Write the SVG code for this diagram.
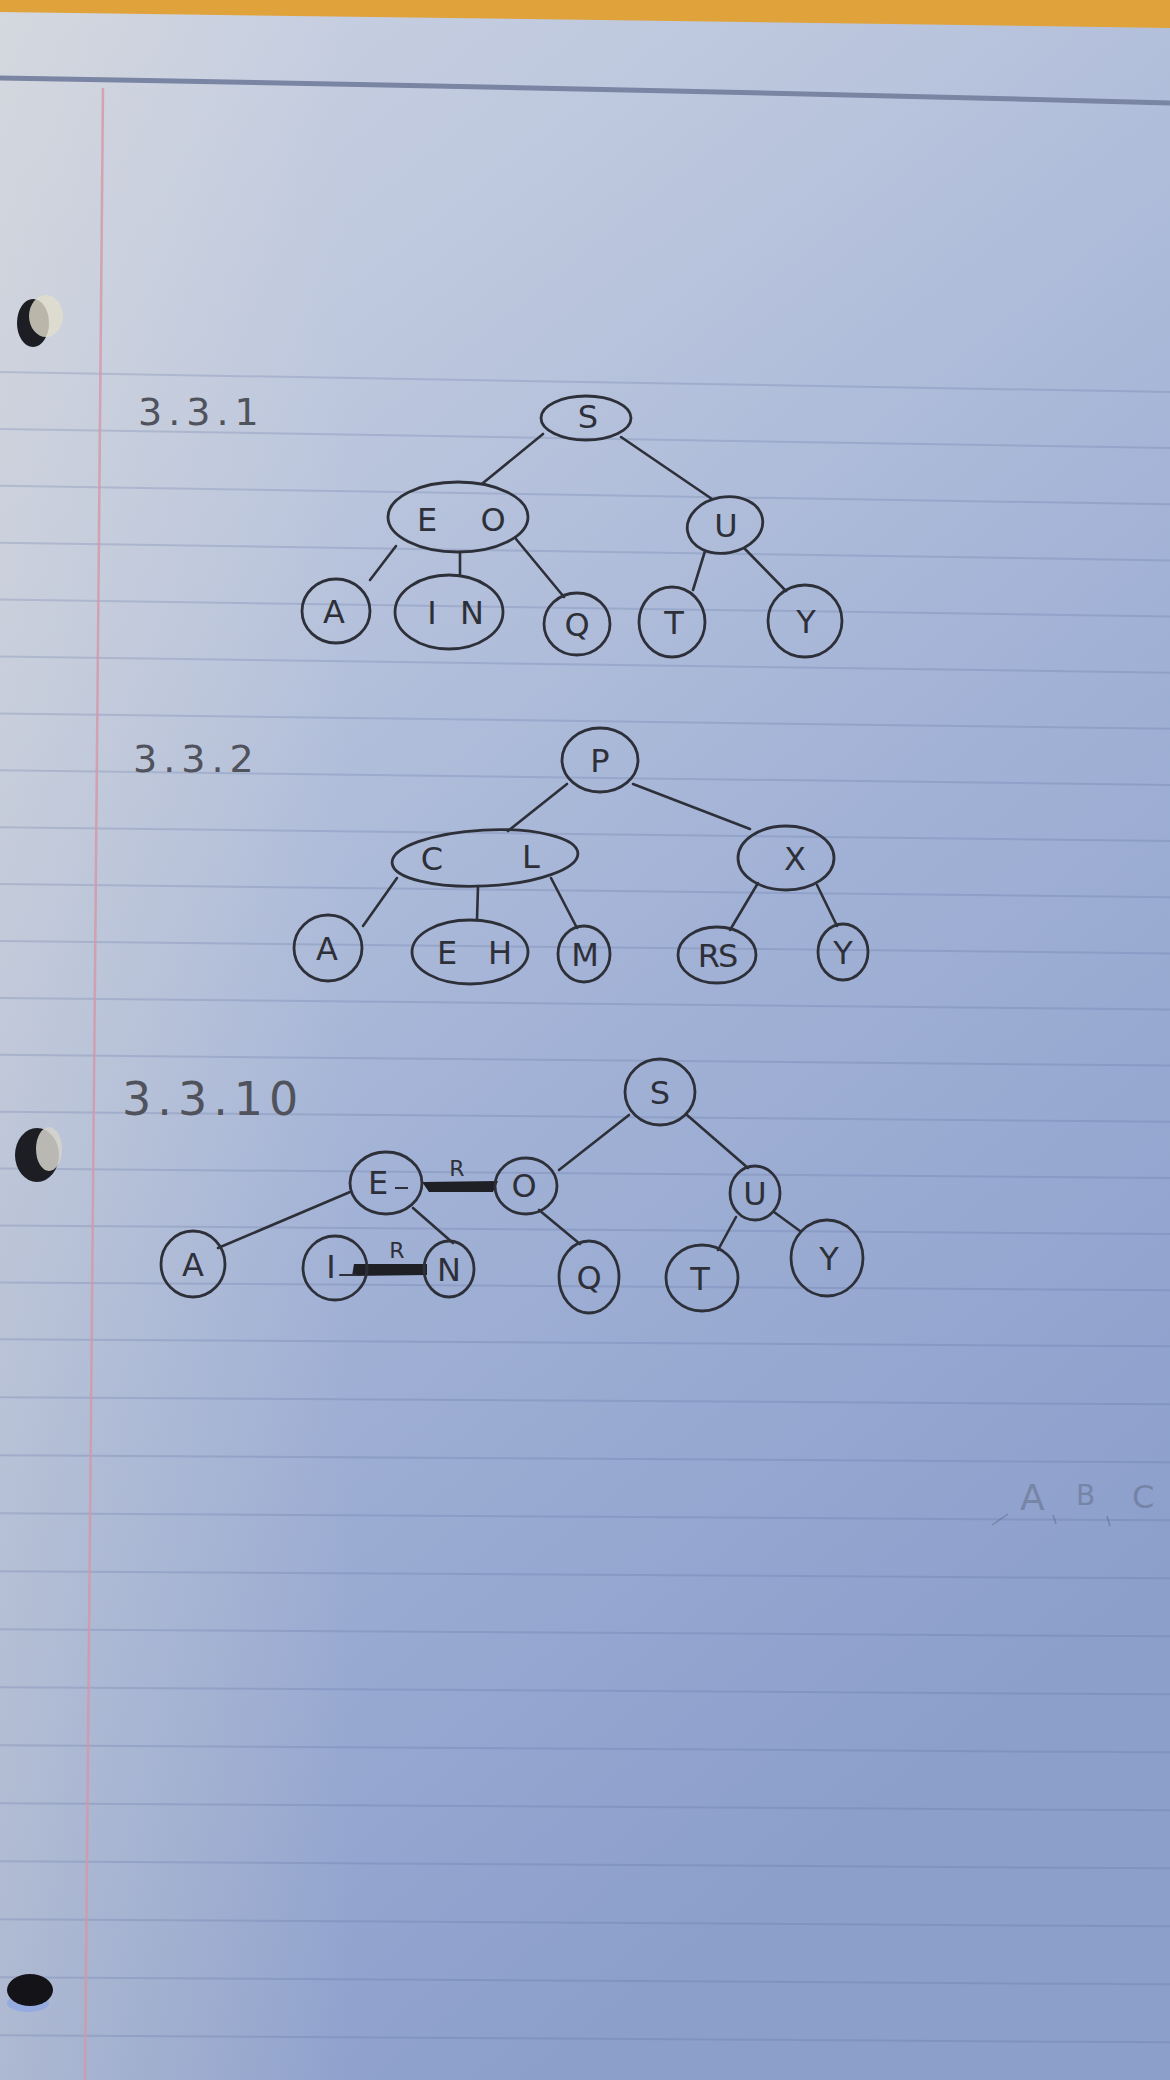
<svg xmlns="http://www.w3.org/2000/svg" width="1170" height="2080" viewBox="0 0 1170 2080">
<defs>
  <linearGradient id="paper" x1="0" y1="0" x2="0.45" y2="1">
    <stop offset="0" stop-color="#ccd3e2"/>
    <stop offset="0.3" stop-color="#bac5dd"/>
    <stop offset="0.6" stop-color="#a2b2d6"/>
    <stop offset="1" stop-color="#8c9fcb"/>
  </linearGradient>
  <linearGradient id="leftlight" x1="0" y1="0" x2="1" y2="0">
    <stop offset="0" stop-color="#e6e2d6" stop-opacity="0.3"/>
    <stop offset="0.3" stop-color="#e6e2d6" stop-opacity="0"/>
  </linearGradient>
  <style>
    .rule{stroke:#55679a;stroke-opacity:0.22;stroke-width:2;fill:none}
    .node ellipse{fill:none;stroke:#2e3039;stroke-width:2.8}
    .node text{font-family:"DejaVu Sans","Liberation Sans",sans-serif;font-size:32px;fill:#2e3039;text-anchor:middle}
    .conn line{stroke:#2e3039;stroke-width:2.6;stroke-linecap:round}
    .head{font-family:"DejaVu Sans","Liberation Sans",sans-serif;fill:#50525c;letter-spacing:6px}
    .rlab{font-family:"DejaVu Sans","Liberation Sans",sans-serif;font-size:22px;fill:#2e3039;text-anchor:middle}
    .bar{fill:#1f2026}
  </style>
</defs>

<!-- paper -->
<rect x="0" y="0" width="1170" height="2080" fill="url(#paper)"/>
<rect x="0" y="0" width="1170" height="2080" fill="url(#leftlight)"/>
<polygon points="0,0 1170,0 1170,28 600,20 0,12" fill="#e0a33c"/>
<path d="M0,78 Q600,88 1170,103" stroke="#7a84a3" stroke-width="5" fill="none"/>

<g id="rules">
  <line class="rule" x1="0" y1="372" x2="1170" y2="392"/>
  <line class="rule" x1="0" y1="428.9" x2="1170" y2="448.1"/>
  <line class="rule" x1="0" y1="485.8" x2="1170" y2="504.3"/>
  <line class="rule" x1="0" y1="542.7" x2="1170" y2="560.4"/>
  <line class="rule" x1="0" y1="599.6" x2="1170" y2="616.5"/>
  <line class="rule" x1="0" y1="656.5" x2="1170" y2="672.7"/>
  <line class="rule" x1="0" y1="713.4" x2="1170" y2="728.8"/>
  <line class="rule" x1="0" y1="770.3" x2="1170" y2="785"/>
  <line class="rule" x1="0" y1="827.2" x2="1170" y2="841.1"/>
  <line class="rule" x1="0" y1="884.1" x2="1170" y2="897.2"/>
  <line class="rule" x1="0" y1="941" x2="1170" y2="953.4"/>
  <line class="rule" x1="0" y1="997.9" x2="1170" y2="1009.5"/>
  <line class="rule" x1="0" y1="1054.8" x2="1170" y2="1065.6"/>
  <line class="rule" x1="0" y1="1111.7" x2="1170" y2="1121.8"/>
  <line class="rule" x1="0" y1="1168.6" x2="1170" y2="1177.9"/>
  <line class="rule" x1="0" y1="1225.5" x2="1170" y2="1234"/>
  <line class="rule" x1="0" y1="1282.4" x2="1170" y2="1290.2"/>
  <line class="rule" x1="0" y1="1339.3" x2="1170" y2="1346.3"/>
  <line class="rule" x1="0" y1="1397.3" x2="1170" y2="1404.3"/>
  <line class="rule" x1="0" y1="1455.3" x2="1170" y2="1462.3"/>
  <line class="rule" x1="0" y1="1513.3" x2="1170" y2="1520.3"/>
  <line class="rule" x1="0" y1="1571.3" x2="1170" y2="1578.3"/>
  <line class="rule" x1="0" y1="1629.3" x2="1170" y2="1636.3"/>
  <line class="rule" x1="0" y1="1687.3" x2="1170" y2="1694.3"/>
  <line class="rule" x1="0" y1="1745.3" x2="1170" y2="1752.3"/>
  <line class="rule" x1="0" y1="1803.3" x2="1170" y2="1810.3"/>
  <line class="rule" x1="0" y1="1861.3" x2="1170" y2="1868.3"/>
  <line class="rule" x1="0" y1="1919.3" x2="1170" y2="1926.3"/>
  <line class="rule" x1="0" y1="1977.3" x2="1170" y2="1984.3"/>
  <line class="rule" x1="0" y1="2035.3" x2="1170" y2="2042.3"/>
</g>
<line x1="103" y1="88" x2="85" y2="2080" stroke="#d597a6" stroke-width="2.5" stroke-opacity="0.8"/>

<!-- punch holes -->
<g id="holes">
  <ellipse cx="33" cy="323" rx="16" ry="24" fill="#1d1e24"/>
  <ellipse cx="46" cy="316" rx="17" ry="21" fill="#e2ddcc" opacity="0.8"/>
  <ellipse cx="37" cy="1155" rx="22" ry="27" fill="#1d1e24"/>
  <ellipse cx="49" cy="1149" rx="13" ry="22" fill="#d6d3cb" opacity="0.85"/>
  <ellipse cx="28" cy="2003" rx="21" ry="9" fill="#8ea8e2" opacity="0.8"/>
  <ellipse cx="30" cy="1990" rx="23" ry="16" fill="#141418"/>
</g>

<!-- headings -->
<text class="head" x="138" y="425" font-size="38">3.3.1</text>
<text class="head" x="133" y="772" font-size="38">3.3.2</text>
<text class="head" x="122" y="1115" font-size="46">3.3.10</text>

<!-- faint bleed-through marks -->
<g id="faint" opacity="0.25">
  <text x="1020" y="1510" font-family="DejaVu Sans, sans-serif" font-size="36" fill="#2e3039">A</text>
  <text x="1076" y="1505" font-family="DejaVu Sans, sans-serif" font-size="28" fill="#2e3039">B</text>
  <text x="1132" y="1508" font-family="DejaVu Sans, sans-serif" font-size="32" fill="#2e3039">C</text>
  <path d="M992,1525 L1008,1514 M1053,1515 L1056,1524 M1107,1516 L1110,1526" stroke="#2e3039" stroke-width="1.5" fill="none"/>
</g>

<!-- connectors -->
<g id="connectors" class="conn">
  <!-- tree 3.3.1 -->
  <line x1="543" y1="434" x2="483" y2="483"/>
  <line x1="621" y1="437" x2="712" y2="499"/>
  <line x1="396" y1="546" x2="370" y2="580"/>
  <line x1="460" y1="552" x2="460" y2="576"/>
  <line x1="516" y1="539" x2="564" y2="597"/>
  <line x1="705" y1="551" x2="693" y2="590"/>
  <line x1="745" y1="549" x2="786" y2="591"/>
  <!-- tree 3.3.2 -->
  <line x1="567" y1="784" x2="508" y2="831"/>
  <line x1="633" y1="784" x2="750" y2="829"/>
  <line x1="397" y1="878" x2="363" y2="926"/>
  <line x1="478" y1="886" x2="477" y2="920"/>
  <line x1="551" y1="878" x2="577" y2="928"/>
  <line x1="758" y1="883" x2="730" y2="930"/>
  <line x1="817" y1="885" x2="837" y2="926"/>
  <!-- tree 3.3.10 -->
  <line x1="629" y1="1115" x2="559" y2="1170"/>
  <line x1="687" y1="1115" x2="748" y2="1168"/>
  <line x1="350" y1="1192" x2="218" y2="1248"/>
  <line x1="413" y1="1208" x2="453" y2="1243"/>
  <line x1="539" y1="1210" x2="580" y2="1244"/>
  <line x1="736" y1="1217" x2="718" y2="1250"/>
  <line x1="774" y1="1212" x2="800" y2="1231"/>
  <!-- red links -->
  <polygon class="bar" points="422,1182 498,1181 493,1192 429,1192"/>
  <polygon class="bar" points="354,1264 427,1264 427,1275 352,1276"/>
  <line x1="340" y1="1275" x2="356" y2="1275" style="stroke-width:2"/>
  <text class="rlab" x="457" y="1176">R</text>
  <text class="rlab" x="397" y="1258">R</text>
</g>

<!-- tree 3.3.1 nodes -->
<g id="t1-S" class="node"><ellipse cx="586" cy="418" rx="45" ry="22"/><text x="588" y="428" font-size="28">S</text></g>
<g id="t1-EO" class="node"><ellipse cx="458" cy="517" rx="70" ry="35"/><text x="427" y="531">E</text><text x="493" y="531">O</text></g>
<g id="t1-U" class="node"><ellipse cx="725" cy="525" rx="38" ry="28" transform="rotate(-10 725 525)"/><text x="726" y="537">U</text></g>
<g id="t1-A" class="node"><ellipse cx="336" cy="611" rx="34" ry="32"/><text x="334" y="623">A</text></g>
<g id="t1-IN" class="node"><ellipse cx="449" cy="612" rx="54" ry="37"/><text x="432" y="624">I</text><text x="472" y="624">N</text></g>
<g id="t1-Q" class="node"><ellipse cx="577" cy="624" rx="33" ry="31"/><text x="577" y="636">Q</text></g>
<g id="t1-T" class="node"><ellipse cx="672" cy="622" rx="33" ry="35"/><text x="674" y="634">T</text></g>
<g id="t1-Y" class="node"><ellipse cx="805" cy="621" rx="37" ry="36"/><text x="806" y="633">Y</text></g>

<!-- tree 3.3.2 nodes -->
<g id="t2-P" class="node"><ellipse cx="600" cy="760" rx="38" ry="32"/><text x="600" y="772">P</text></g>
<g id="t2-CL" class="node"><ellipse cx="485" cy="858" rx="93" ry="28" transform="rotate(-3 485 858)"/><text x="432" y="870">C</text><text x="531" y="868">L</text></g>
<g id="t2-X" class="node"><ellipse cx="786" cy="858" rx="48" ry="32"/><text x="795" y="870">X</text></g>
<g id="t2-A" class="node"><ellipse cx="328" cy="948" rx="34" ry="33"/><text x="327" y="960">A</text></g>
<g id="t2-EH" class="node"><ellipse cx="470" cy="952" rx="58" ry="32"/><text x="447" y="964">E</text><text x="500" y="964">H</text></g>
<g id="t2-M" class="node"><ellipse cx="584" cy="954" rx="26" ry="28"/><text x="585" y="966">M</text></g>
<g id="t2-RS" class="node"><ellipse cx="717" cy="955" rx="39" ry="28"/><text x="717" y="967" letter-spacing="-2">RS</text></g>
<g id="t2-Y" class="node"><ellipse cx="843" cy="952" rx="25" ry="28"/><text x="843" y="964">Y</text></g>

<!-- tree 3.3.10 nodes -->
<g id="t3-S" class="node"><ellipse cx="660" cy="1092" rx="35" ry="33"/><text x="660" y="1104">S</text></g>
<g id="t3-E" class="node"><ellipse cx="386" cy="1183" rx="36" ry="31"/><text x="378" y="1194">E</text><line x1="395" y1="1188" x2="408" y2="1188" stroke="#2e3039" stroke-width="2"/></g>
<g id="t3-O" class="node"><ellipse cx="526" cy="1186" rx="31" ry="28"/><text x="524" y="1197">O</text></g>
<g id="t3-U" class="node"><ellipse cx="755" cy="1193" rx="25" ry="27"/><text x="755" y="1205">U</text></g>
<g id="t3-A" class="node"><ellipse cx="193" cy="1264" rx="32" ry="33"/><text x="193" y="1276">A</text></g>
<g id="t3-I" class="node"><ellipse cx="335" cy="1268" rx="32" ry="32"/><text x="331" y="1278">I</text></g>
<g id="t3-N" class="node"><ellipse cx="449" cy="1269" rx="25" ry="28"/><text x="449" y="1281">N</text></g>
<g id="t3-Q" class="node"><ellipse cx="589" cy="1277" rx="30" ry="36"/><text x="589" y="1289">Q</text></g>
<g id="t3-T" class="node"><ellipse cx="702" cy="1278" rx="36" ry="33"/><text x="700" y="1290">T</text></g>
<g id="t3-Y" class="node"><ellipse cx="827" cy="1258" rx="36" ry="38"/><text x="829" y="1270">Y</text></g>
</svg>
